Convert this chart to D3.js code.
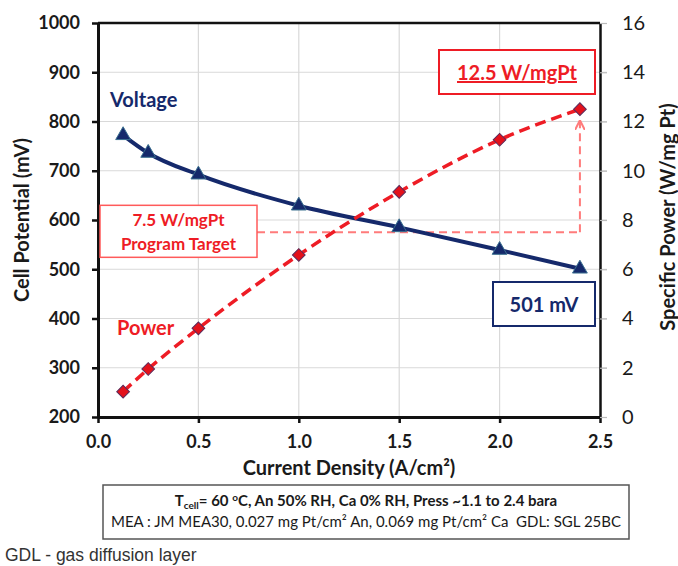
<!DOCTYPE html>
<html>
<head>
<meta charset="utf-8">
<script src="https://cdn.jsdelivr.net/npm/d3@7"></script>
<style>
  body { margin: 0; background: #fff; }
  svg { display: block; font-family: Lato, "Open Sans", sans-serif; }
</style>
</head>
<body>
<svg id="chart"></svg>
<script>
// data
var current = [0.125, 0.25, 0.5, 1.0, 1.5, 2.0, 2.4];
var voltage = [772, 736, 692, 629, 585, 539, 501];
var power = [1.03, 1.95, 3.6, 6.58, 9.14, 11.26, 12.5];
var xTicks = [0.0, 0.5, 1.0, 1.5, 2.0, 2.5];
var vTicks = [200, 300, 400, 500, 600, 700, 800, 900, 1000];
var pTicks = [0, 2, 4, 6, 8, 10, 12, 14, 16];
var targetPower = 7.5;

var W = 678, H = 566;
var margin = { top: 23, right: 78, bottom: 149, left: 98 },
  w = W - margin.left - margin.right,
  h = H - margin.top - margin.bottom;

var navy = "#15296b", red = "#ee1c25", pink = "#ff7b7b";

var svg = d3.select("#chart").attr("width", W).attr("height", H);
var g = svg.append("g").attr("transform", `translate(${margin.left},${margin.top})`);

var x = d3.scaleLinear().domain([0, 2.5]).range([0, w]);
var yV = d3.scaleLinear().domain([200, 1000]).range([h, 0]);
var yP = d3.scaleLinear().domain([0, 16]).range([h, 0]);

// grid
g.append("g").selectAll("line").data(xTicks.slice(1, -1)).join("line")
  .attr("x1", d => x(d)).attr("x2", d => x(d)).attr("y1", 0).attr("y2", h)
  .attr("stroke", "#d9d9d9").attr("stroke-width", 1.2);
g.append("g").selectAll("line").data(vTicks.slice(1, -1)).join("line")
  .attr("x1", 0).attr("x2", w + 7).attr("y1", d => yV(d)).attr("y2", d => yV(d))
  .attr("stroke", "#d9d9d9").attr("stroke-width", 1.2);

// axes
var axL = g.append("g").call(d3.axisLeft(yV).tickValues(vTicks).tickFormat(d3.format("d"))
  .tickSize(6).tickSizeOuter(0).tickPadding(12));
var axB = g.append("g").attr("transform", `translate(0,${h})`)
  .call(d3.axisBottom(x).tickValues(xTicks).tickFormat(d3.format(".1f")).tickSize(6).tickSizeOuter(0).tickPadding(12));
var axR = g.append("g").attr("transform", `translate(${w},0)`)
  .call(d3.axisRight(yP).tickValues(pTicks).tickSize(7).tickSizeOuter(0).tickPadding(15));

[axL, axB].forEach(a => {
  a.select(".domain").attr("stroke", "#111").attr("stroke-width", 3);
  a.selectAll(".tick line").attr("stroke", "#111").attr("stroke-width", 2.5);
  a.selectAll("text").attr("font-size", 18).attr("font-weight", "bold").attr("fill", "#1a1a1a")
    .attr("font-family", "Lato, sans-serif");
});
axR.select(".domain").attr("stroke", "#111").attr("stroke-width", 2.5);
axR.selectAll(".tick line").attr("stroke", "#bbb").attr("stroke-width", 1.2);
axR.selectAll("text").attr("font-size", 20).attr("fill", "#1a1a1a").attr("font-family", "Lato, sans-serif");

// top border
g.append("line").attr("x1", 0).attr("x2", w).attr("y1", 0).attr("y2", 0)
  .attr("stroke", "#111").attr("stroke-width", 2.5);

// axis titles
g.append("text").attr("x", w / 2).attr("y", h + 58).attr("text-anchor", "middle")
  .attr("font-size", 20).attr("font-weight", "bold").attr("fill", "#1a1a1a")
  .text("Current Density (A/cm²)");
g.append("text").attr("transform", `translate(${-69},${h / 2}) rotate(-90)`).attr("text-anchor", "middle")
  .attr("font-size", 20).attr("font-weight", "bold").attr("fill", "#1a1a1a")
  .text("Cell Potential (mV)");
g.append("text").attr("transform", `translate(${w + 75},${h / 2 - 3}) rotate(-90)`).attr("text-anchor", "middle")
  .attr("font-size", 20).attr("font-weight", "bold").attr("fill", "#1a1a1a")
  .text("Specific Power (W/mg Pt)");

// target line + arrow
var last = current.length - 1;
var tBox = { x0: 2, y0: yP(targetPower) - 27, x1: 159, y1: yP(targetPower) + 25 };
g.append("line")
  .attr("x1", tBox.x1).attr("x2", x(current[last]))
  .attr("y1", yP(targetPower)).attr("y2", yP(targetPower))
  .attr("stroke", pink).attr("stroke-width", 2).attr("stroke-dasharray", "8,5");
svg.append("defs").append("marker").attr("id", "arr").attr("viewBox", "0 0 10 10")
  .attr("refX", 9).attr("refY", 5).attr("markerWidth", 5).attr("markerHeight", 5).attr("orient", "auto")
  .append("path").attr("d", "M0,0L10,5L0,10").attr("fill", "none").attr("stroke", pink).attr("stroke-width", 2);
g.append("line")
  .attr("x1", x(current[last])).attr("x2", x(current[last]))
  .attr("y1", yP(targetPower)).attr("y2", yP(power[last]) + 12)
  .attr("stroke", pink).attr("stroke-width", 2).attr("stroke-dasharray", "8,5")
  .attr("marker-end", "url(#arr)");

// voltage
var lineV = d3.line().x((d, i) => x(current[i])).y(d => yV(d)).curve(d3.curveMonotoneX);
g.append("path").datum(voltage).attr("d", lineV).attr("fill", "none")
  .attr("stroke", navy).attr("stroke-width", 4);
g.append("g").selectAll("path").data(voltage).join("path")
  .attr("transform", (d, i) => `translate(${x(current[i])},${yV(d)})`)
  .attr("d", d3.symbol(d3.symbolTriangle, 95))
  .attr("fill", navy).attr("stroke", "#3a6f8f").attr("stroke-width", 1);

// power
var lineP = d3.line().x((d, i) => x(current[i])).y(d => yP(d)).curve(d3.curveMonotoneX);
g.append("path").datum(power).attr("d", lineP).attr("fill", "none")
  .attr("stroke", red).attr("stroke-width", 3.5).attr("stroke-dasharray", "11,6");
g.append("g").selectAll("rect").data(power).join("rect")
  .attr("x", -4.5).attr("y", -4.5).attr("width", 9).attr("height", 9)
  .attr("transform", (d, i) => `translate(${x(current[i])},${yP(d)}) rotate(45)`)
  .attr("fill", "#e3111b").attr("stroke", "#5a2a5a").attr("stroke-width", 1);

// series labels
g.append("text").attr("x", 12).attr("y", 84).attr("font-size", 20).attr("font-weight", "bold")
  .attr("fill", navy).text("Voltage");
g.append("text").attr("x", 19).attr("y", 312).attr("font-size", 20).attr("font-weight", "bold")
  .attr("fill", red).text("Power");

// target box
g.append("rect").attr("x", tBox.x0).attr("y", tBox.y0).attr("width", tBox.x1 - tBox.x0).attr("height", tBox.y1 - tBox.y0)
  .attr("fill", "#fff").attr("stroke", "#ff5a5a").attr("stroke-width", 1.5);
g.append("text").attr("x", (tBox.x0 + tBox.x1) / 2).attr("y", tBox.y0 + 21).attr("text-anchor", "middle")
  .attr("font-size", 17).attr("font-weight", "bold").attr("fill", red).text("7.5 W/mgPt");
g.append("text").attr("x", (tBox.x0 + tBox.x1) / 2).attr("y", tBox.y0 + 45).attr("text-anchor", "middle")
  .attr("font-size", 17).attr("font-weight", "bold").attr("fill", red).text("Program Target");

// peak box
g.append("rect").attr("x", 341).attr("y", 27).attr("width", 156).attr("height", 44)
  .attr("fill", "#fff").attr("stroke", red).attr("stroke-width", 2);
g.append("text").attr("x", 419).attr("y", 57).attr("text-anchor", "middle")
  .attr("font-size", 20).attr("font-weight", "bold").attr("fill", red)
  .attr("text-decoration", "underline").text("12.5 W/mgPt");

// 501 mV box
g.append("rect").attr("x", 395).attr("y", 259).attr("width", 102).attr("height", 44)
  .attr("fill", "#fff").attr("stroke", navy).attr("stroke-width", 2);
g.append("text").attr("x", 446).attr("y", 289).attr("text-anchor", "middle")
  .attr("font-size", 20).attr("font-weight", "bold").attr("fill", navy).text("501 mV");

// conditions box
svg.append("rect").attr("x", 103).attr("y", 485).attr("width", 526).attr("height", 54)
  .attr("fill", "#fff").attr("stroke", "#555").attr("stroke-width", 1.5);
var t1 = svg.append("text").attr("x", 366).attr("y", 506).attr("text-anchor", "middle")
  .attr("font-size", 15).attr("font-weight", "bold").attr("fill", "#1a1a1a");
t1.append("tspan").text("T");
t1.append("tspan").attr("font-size", 10).attr("dy", 3).text("cell");
t1.append("tspan").attr("dy", -3).text("= 60 ");
t1.append("tspan").attr("font-size", 10).attr("dy", -5).text("o");
t1.append("tspan").attr("dy", 5).text("C, An 50% RH, Ca 0% RH, Press ~1.1 to 2.4 bara");
svg.append("text").attr("x", 366).attr("y", 527).attr("text-anchor", "middle")
  .attr("font-size", 15).attr("fill", "#1a1a1a")
  .text("MEA : JM MEA30, 0.027 mg Pt/cm² An, 0.069 mg Pt/cm² Ca\u00a0\u00a0GDL: SGL 25BC");

svg.append("text").attr("x", 5).attr("y", 561).attr("font-family", "'Liberation Sans', Arial, sans-serif")
  .attr("font-size", 17.5).attr("fill", "#333").text("GDL - gas diffusion layer");
</script>
</body>
</html>
